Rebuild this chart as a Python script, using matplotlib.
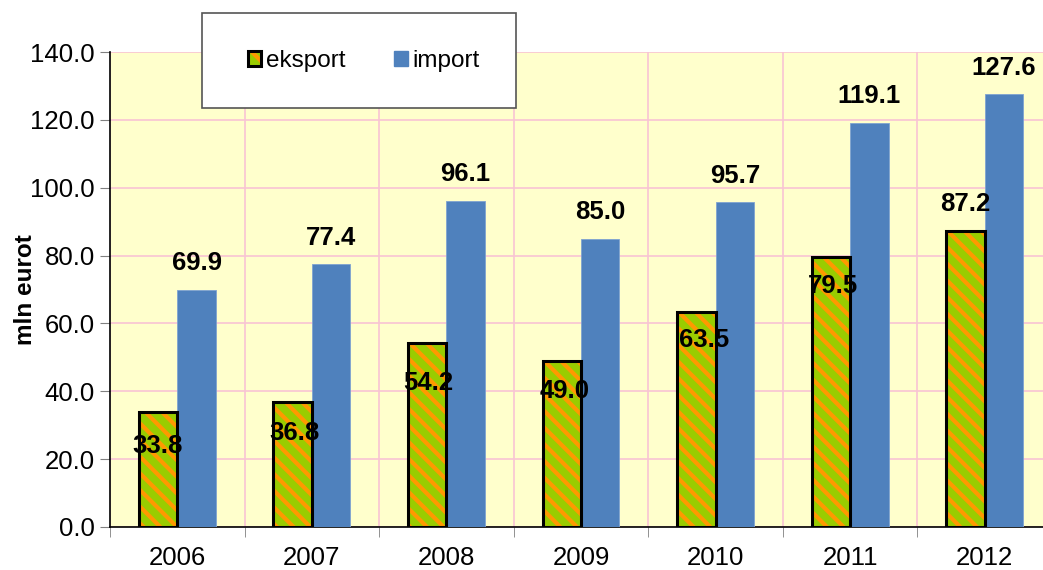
import numpy as np
import matplotlib.pyplot as plt
from matplotlib.patches import Patch, Rectangle

years = ['2006', '2007', '2008', '2009', '2010', '2011', '2012']
eksport = [33.8, 36.8, 54.2, 49.0, 63.5, 79.5, 87.2]
imports = [69.9, 77.4, 96.1, 85.0, 95.7, 119.1, 127.6]

# label offsets for eksport values (pixels from bar top centre)
eks_dx = [0, 1.5, 1.5, 3, 8, 2, 0]
eks_dy = [-34, -31, -40, -30, -28, -29, 27.5]

green = '#99CC00'
orange = '#FF9900'
blue = '#4F81BD'

plt.rcParams['font.family'] = ['Liberation Sans', 'DejaVu Sans']
plt.rcParams['hatch.linewidth'] = 3.0

fig = plt.figure(figsize=(10.43, 5.70), dpi=100)
ax = fig.add_axes([110/1043, 1 - 527/570, 942/1043, 475/570])
ax.set_facecolor('#FFFFCC')

x = np.arange(len(years))
w = 0.286
px = 72/100  # pixels -> points

ax.bar(x - w/2, eksport, w, facecolor=green, edgecolor=orange, hatch='\\\\', linewidth=0, zorder=3)
ax.bar(x - w/2, eksport, w, fill=False, edgecolor='black', linewidth=2.2, zorder=4)
ax.bar(x + w/2, imports, w, color=blue, edgecolor='#7FA3D0', linewidth=0.6, zorder=3)

for i in range(len(years)):
    ax.annotate(f'{imports[i]:.1f}', (x[i] + w/2, imports[i]), xytext=(0, 26.5*px),
                textcoords='offset points', ha='center', va='center',
                fontsize=18.5, fontweight='bold', zorder=6)
    ax.annotate(f'{eksport[i]:.1f}', (x[i] - w/2, eksport[i]),
                xytext=(eks_dx[i]*px, eks_dy[i]*px),
                textcoords='offset points', ha='center', va='center',
                fontsize=18.5, fontweight='bold', zorder=6)

ax.set_xlim(-0.5, 6.5)
ax.set_ylim(0, 140)
ax.set_yticks(np.arange(0, 141, 20))
ax.set_yticklabels([f'{v:.1f}' for v in np.arange(0, 141, 20)])
ax.set_xticks(x)
ax.set_xticklabels(years)
ax.set_xticks(np.arange(-0.5, 6.6, 1), minor=True)
ax.tick_params(axis='x', which='major', length=0, pad=14, labelsize=18.5)
ax.tick_params(axis='x', which='minor', length=7, color='gray', direction='out')
ax.tick_params(axis='y', length=7, color='gray', direction='out', labelsize=18.5, pad=4)

ax.grid(axis='y', color='#F8C4D4', linewidth=1.2, zorder=0)
ax.grid(axis='x', which='minor', color='#F8C4D4', linewidth=1.2, zorder=0)
ax.set_axisbelow(True)

for s in ['top', 'right']:
    ax.spines[s].set_visible(False)
ax.spines['left'].set_linewidth(1.2)
ax.spines['bottom'].set_linewidth(1.2)

ax.set_ylabel('mln eurot', fontsize=17.5, fontweight='bold')
ax.yaxis.set_label_coords((37 - 110)/942, 0.5)

# legend box
box = Rectangle((202/1043, 1 - 108/570), 314/1043, 95/570, transform=fig.transFigure,
                facecolor='white', edgecolor='#555555', linewidth=1.2, zorder=10)
fig.add_artist(box)

h_eks = (Patch(facecolor=green, edgecolor=orange, hatch='\\', linewidth=0),
         Patch(fill=False, edgecolor='black', linewidth=2.2))
h_imp = Patch(facecolor=blue, edgecolor=blue)
leg = fig.legend([h_eks, h_imp], ['eksport', 'import'], loc='center',
                 bbox_to_anchor=(364/1043, 1 - 61/570), ncol=2, frameon=False,
                 fontsize=17.5, handlelength=0.55, handleheight=0.55,
                 handletextpad=0.2, columnspacing=2.0)
leg.set_zorder(11)

fig.savefig('out.png', dpi=100)
